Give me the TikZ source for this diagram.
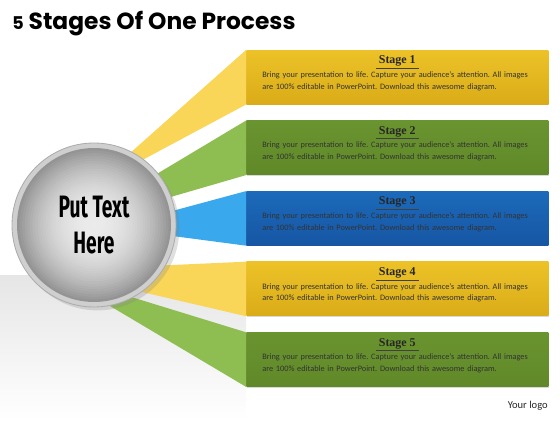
\documentclass[tikz,border=0pt]{standalone}
\usepackage{fontspec}
\setmainfont{Carlito}
\newfontfamily\titlefont{Poppins}
\newfontfamily\hubfont[FakeStretch=0.62]{Fira Sans}
\newfontfamily\headfont{Liberation Serif}
\usetikzlibrary{shadows}
\usetikzlibrary{positioning}

\definecolor{goldtop}{RGB}{236,194,40}
\definecolor{goldmid}{RGB}{248,218,96}
\definecolor{goldbot}{RGB}{218,172,24}
\definecolor{goldray}{RGB}{250,214,88}
\definecolor{greentop}{RGB}{106,148,48}
\definecolor{greenmid}{RGB}{146,186,86}
\definecolor{greenbot}{RGB}{96,136,40}
\definecolor{greenray}{RGB}{142,190,82}
\definecolor{bluetop}{RGB}{28,106,186}
\definecolor{bluemid}{RGB}{62,156,228}
\definecolor{bluebot}{RGB}{22,86,164}
\definecolor{blueray}{RGB}{58,168,236}

\begin{document}
\frenchspacing
\begin{tikzpicture}

% Define block styles
\tikzstyle{stagebox}=[minimum width=7.55cm, minimum height=1.35cm, inner sep=0pt,
  drop shadow={opacity=0.3, shadow xshift=0.7pt, shadow yshift=-0.7pt}]
\tikzstyle{goldbox} = [stagebox, top color=goldtop, middle color=goldmid, bottom color=goldbot]
\tikzstyle{greenbox} = [stagebox, top color=greentop, middle color=greenmid, bottom color=greenbot]
\tikzstyle{bluebox} = [stagebox, top color=bluetop, middle color=bluemid, bottom color=bluebot]
\tikzstyle{stagehead} = [font=\headfont\bfseries\fontsize{8.5}{9}\selectfont, text=black!85, inner sep=1pt]
\tikzstyle{stagebody} = [font=\fontsize{5.9}{8.4}\selectfont, text width=7.2cm, align=left,
  inner sep=0pt, text=black!80]
\tikzstyle{headline} = [draw, thin, color=black!75]

\newcommand{\bodytext}{Bring your presentation to life. Capture your audience’s attention. All images\\
  are 100\% editable in PowerPoint. Download this awesome diagram.}

\newcommand{\stagetext}[2]{%
  \path (#1.north)+(0,-0.28) node (#1h) [stagehead] {Stage #2};
  \draw[headline] ([xshift=-1pt]#1h.south west) -- ([xshift=1pt]#1h.south east);
  \path (#1.north west)+(0.4,-0.53) node[anchor=north west] (#1t) [stagebody] {\bodytext};}

\useasboundingbox (0,0) rectangle (14,10.5);

% floor
\fill[top color=gray!20, bottom color=white] (0,0) rectangle (6.15,3.625);

% Draw the stage boxes
\path node[anchor=north west] at (6.15,9.25) (s1) [goldbox] {};
\path (s1.south)+(0.0,-0.4) node[anchor=north] (s2) [greenbox] {};
\path (s2.south)+(0.0,-0.4) node[anchor=north] (s3) [bluebox] {};
\path (s3.south)+(0.0,-0.4) node[anchor=north] (s4) [goldbox] {};
\path (s4.south)+(0.0,-0.4) node[anchor=north] (s5) [greenbox] {};

% ends of the rays (hidden under the hub)
\coordinate (r1a) at (3.0,6.45);   \coordinate (r1b) at (3.375,6.4);
\coordinate (r2a) at (3.5,5.9);    \coordinate (r2b) at (3.75,5.425);
\coordinate (r3a) at (3.75,5.075); \coordinate (r3b) at (3.75,4.675);
\coordinate (r4a) at (3.75,3.85);  \coordinate (r4b) at (3.125,3.3);
\coordinate (r5a) at (2.875,3.2);  \coordinate (r5b) at (2.5,3.0);

\fill[goldray] (s1.north west) -- (r1a) -- (r1b) -- (s1.south west) -- cycle;
\fill[greenray] (s2.north west) -- (r2a) -- (r2b) -- (s2.south west) -- cycle;
\fill[blueray] (s3.north west) -- (r3a) -- (r3b) -- (s3.south west) -- cycle;
\fill[goldray] (s4.north west) -- (r4a) -- (r4b) -- (s4.south west) -- cycle;
\fill[greenray] (s5.north west) -- (r5a) -- (r5b) -- (s5.south west) -- cycle;

\stagetext{s1}{1}
\stagetext{s2}{2}
\stagetext{s3}{3}
\stagetext{s4}{4}
\stagetext{s5}{5}

% hub
\node (hub) [circle, minimum size=4.1cm, fill=gray!38, draw=gray!65, line width=0.6pt,
  drop shadow={opacity=0.25}] at (2.35,4.875) {};
\foreach \i in {0,...,29}{
  \pgfmathsetmacro{\rad}{1.925*(1-\i/30)}
  \pgfmathsetmacro{\shd}{8+34*(1-\i/30)^2.2}
  \fill[black!\shd] (hub.center) circle (\rad);
}
\node (hubtext) [font=\hubfont\bfseries\fontsize{22}{25}\selectfont, align=center,
  text=black] at (hub) {Put Text\\Here};

% title and logo
\node (title) [anchor=west, inner sep=0pt, font=\titlefont\bfseries\fontsize{16.6}{17}\selectfont]
  at (0.3,9.9) {{\fontsize{12.5}{13}\selectfont 5} Stages Of One Process};
\node (logo) [anchor=east, inner sep=0pt, font=\fontsize{7.5}{8}\selectfont, text=black!85]
  at (13.7,0.35) {Your logo};

\end{tikzpicture}
\end{document}
